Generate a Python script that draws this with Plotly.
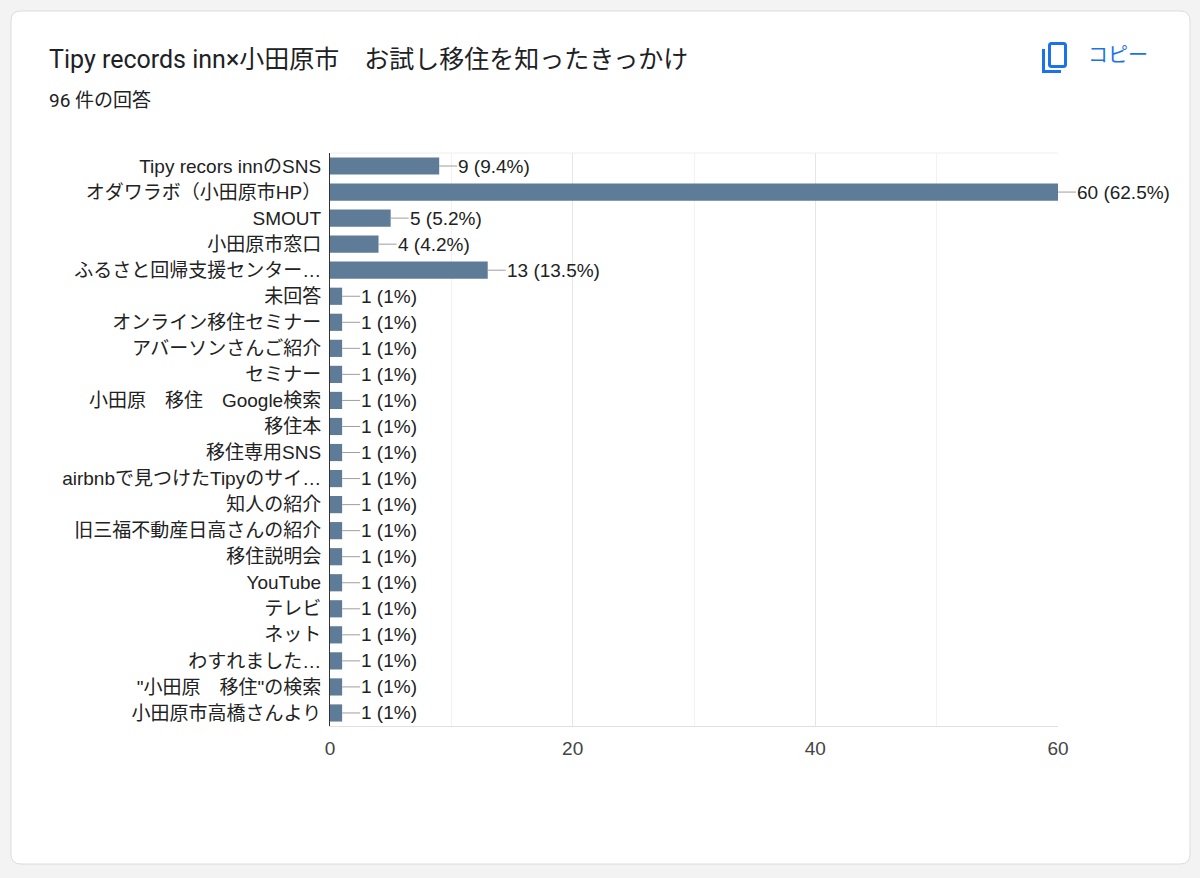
import plotly.graph_objects as go

categories = [
    "Tipy recors innのSNS",
    "オダワラボ（小田原市HP）",
    "SMOUT",
    "小田原市窓口",
    "ふるさと回帰支援センター…",
    "未回答",
    "オンライン移住セミナー",
    "アバーソンさんご紹介",
    "セミナー",
    "小田原　移住　Google検索",
    "移住本",
    "移住専用SNS",
    "airbnbで見つけたTipyのサイ…",
    "知人の紹介",
    "旧三福不動産日高さんの紹介",
    "移住説明会",
    "YouTube",
    "テレビ",
    "ネット",
    "わすれました…",
    "\"小田原　移住\"の検索",
    "小田原市高橋さんより",
]
values = [9, 60, 5, 4, 13, 1, 1, 1, 1, 1, 1, 1, 1, 1, 1, 1, 1, 1, 1, 1, 1, 1]
total_responses = 96
x_ticks = [0, 20, 40, 60]

title_text = "Tipy records inn×小田原市　お試し移住を知ったきっかけ"
subtitle_text = f"{total_responses} 件の回答"
copy_text = "コピー"

W, H = 1200, 878
L, R, T, B = 330, 1058, 153, 726


def px(xp):
    return (xp - L) / (R - L)


def py(yp):
    return (B - yp) / (B - T)


FONT = "'Liberation Sans', Arial, 'Noto Sans CJK JP', sans-serif"
TFONT = "Roboto, 'Noto Sans CJK JP', sans-serif"
BAR = "#5e7b97"
BLUE = "#1a73e8"


def pct(v):
    s = f"{v / total_responses * 100:.1f}"
    if s.endswith(".0"):
        s = s[:-2]
    return s


fig = go.Figure()
fig.add_trace(go.Bar(
    x=values, y=categories, orientation="h",
    marker=dict(color=BAR, line=dict(width=0)),
    hoverinfo="skip",
))

annotations = []
for c, v in zip(categories, values):
    annotations.append(dict(
        x=v, y=c, xref="x", yref="y",
        text=f"{v} ({pct(v)}%)",
        showarrow=True, arrowhead=0, arrowwidth=1, arrowcolor="#9e9e9e",
        ax=18, ay=0, axref="pixel", ayref="pixel",
        xanchor="left", yanchor="middle", standoff=0, borderpad=0,
        font=dict(family=FONT, size=19, color="#222222"),
    ))

annotations += [
    dict(x=px(47), y=py(59), xref="paper", yref="paper", text=title_text,
         showarrow=False, xanchor="left", yanchor="middle",
         font=dict(family=TFONT, size=25, color="#202124")),
    dict(x=px(47), y=py(101), xref="paper", yref="paper", text=subtitle_text,
         showarrow=False, xanchor="left", yanchor="middle",
         font=dict(family=TFONT, size=19, color="#202124")),
    dict(x=px(1086), y=py(55), xref="paper", yref="paper", text=copy_text,
         showarrow=False, xanchor="left", yanchor="middle",
         font=dict(family=TFONT, size=20, color=BLUE)),
]


def rounded_rect_path(x0, y0, x1, y1, r):
    def P(a, b):
        return f"{px(a):.5f},{py(b):.5f}"
    return (f"M {P(x0 + r, y0)} L {P(x1 - r, y0)} Q {P(x1, y0)} {P(x1, y0 + r)} "
            f"L {P(x1, y1 - r)} Q {P(x1, y1)} {P(x1 - r, y1)} "
            f"L {P(x0 + r, y1)} Q {P(x0, y1)} {P(x0, y1 - r)} "
            f"L {P(x0, y0 + r)} Q {P(x0, y0)} {P(x0 + r, y0)} Z")


shapes = [
    dict(type="path", xref="paper", yref="paper", layer="below",
         path=rounded_rect_path(11, 11, 1190, 864, 10),
         fillcolor="white", line=dict(color="#dadce0", width=1)),
    dict(type="path", xref="paper", yref="paper",
         path=rounded_rect_path(1049.5, 43.5, 1065.5, 66.5, 2),
         fillcolor="rgba(0,0,0,0)", line=dict(color=BLUE, width=3)),
    dict(type="path", xref="paper", yref="paper",
         path=f"M {px(1043.5)},{py(49)} L {px(1043.5)},{py(71.5)} L {px(1061)},{py(71.5)}",
         line=dict(color=BLUE, width=3)),
    dict(type="line", xref="paper", yref="paper", x0=0, x1=1, y0=1, y1=1,
         line=dict(color="#eeeeee", width=1), layer="below"),
]

fig.update_layout(
    width=W, height=H,
    margin=dict(l=L, r=W - R, t=T, b=H - B, pad=0),
    paper_bgcolor="#f3f3f3",
    plot_bgcolor="white",
    showlegend=False,
    bargap=0.34,
    annotations=annotations,
    shapes=shapes,
    font=dict(family=FONT, size=19, color="#222222"),
)
fig.update_xaxes(
    range=[0, 60], tickvals=x_ticks, ticktext=[str(t) for t in x_ticks],
    showgrid=True, gridcolor="#e6e6e6", gridwidth=1,
    minor=dict(dtick=10, tick0=0, showgrid=True, gridcolor="#f2f2f2", gridwidth=1),
    zeroline=False, showline=True, linecolor="#e0e0e0", linewidth=1,
    ticks="", ticklabelstandoff=5,
    tickfont=dict(family=FONT, size=19, color="#444444"),
    fixedrange=True, automargin=False,
)
fig.update_yaxes(
    autorange="reversed", showgrid=False, zeroline=False,
    showline=True, linecolor="#333333", linewidth=1,
    ticks="", ticklabelstandoff=4,
    tickfont=dict(family=FONT, size=19, color="#222222"),
    fixedrange=True, automargin=False,
)

fig.write_html("out.html", config={"displayModeBar": False},
               post_script="document.body.style.margin='0';document.body.style.overflow='hidden';")
